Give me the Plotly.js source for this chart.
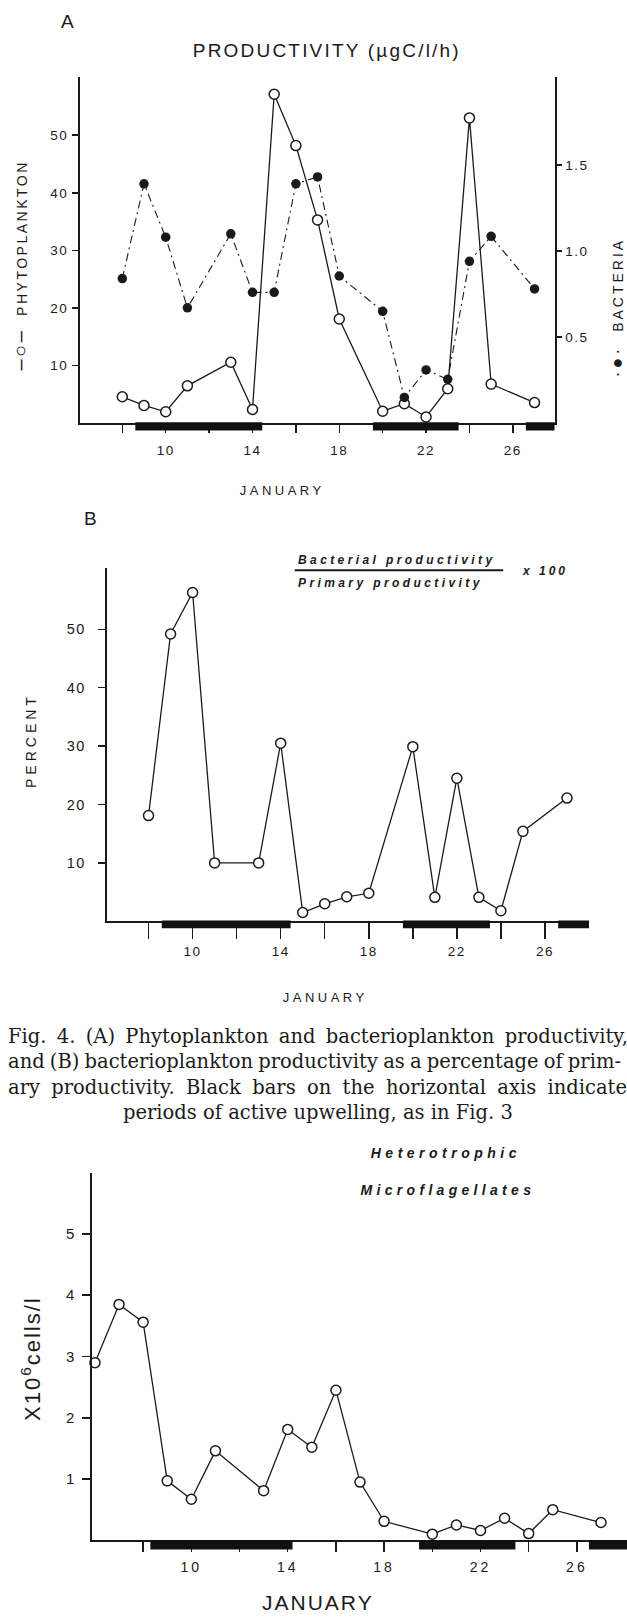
<!DOCTYPE html>
<html><head><meta charset="utf-8">
<script src="https://cdn.plot.ly/plotly-3.0.1.min.js"></script>
<style>
html,body{margin:0;padding:0;background:#fff;}
#chart{width:627px;height:1619px;}
g.xtick text, g.x2tick text, g.ytick text, g.y2tick text, g.y3tick text {letter-spacing:1.5px;}
g.x3tick text {letter-spacing:3px;}
</style></head>
<body><div id="chart"></div>
<script>
// ---------- data ----------
const phytoDays = [8,9,10,11,13,14,15,16,17,18,20,21,22,23,24,25,27];
const phytoValues = [4.6,3.1,2.0,6.5,10.6,2.4,57.1,48.2,35.3,18.1,2.1,3.4,1.1,6.0,53.0,6.8,3.6];
const bacteriaDays = [8,9,10,11,13,14,15,16,17,18,20,21,22,23,24,25,27];
const bacteriaValues = [0.84,1.39,1.08,0.67,1.10,0.76,0.76,1.39,1.43,0.855,0.65,0.15,0.31,0.255,0.94,1.085,0.78];
const percentDays = [8,9,10,11,13,14,15,16,17,18,20,21,22,23,24,25,27];
const percentValues = [18.1,49.2,56.3,10.0,10.0,30.5,1.5,3.0,4.2,4.8,29.9,4.1,24.5,4.1,1.8,15.4,21.1];
const flagDays = [6,7,8,9,10,11,13,14,15,16,17,18,20,21,22,23,24,25,27];
const flagValues = [2.90,3.85,3.56,0.97,0.67,1.46,0.81,1.81,1.52,2.45,0.95,0.31,0.10,0.25,0.16,0.36,0.11,0.50,0.29];
const upwellStartAB = [8.6,19.55,26.6];
const upwellEndAB = [14.45,23.5,28.5];
const upwellStartC = [8.3,19.45,26.5];
const upwellEndC = [14.2,23.45,28.5];
const dayLabelTicks = [10,14,18,22,26];
const dayMinorTicks = [8,12,16,20,24];
const phytoTicks = [10,20,30,40,50];
const bacteriaTicks = [0.5,1.0,1.5];
const bacteriaTickText = ['0.5','1.0','1.5'];
const percentTicks = [10,20,30,40,50];
const cellTicks = [1,2,3,4,5];
const captionLines = [
  'Fig. 4. (A) Phytoplankton and bacterioplankton productivity,',
  'and (B) bacterioplankton productivity as a percentage of prim-',
  'ary productivity. Black bars on the horizontal axis indicate',
  'periods of active upwelling, as in Fig. 3'
];

// ---------- layout helpers ----------
const W = 627, H = 1619;
const px = x => x / W;
const py = y => 1 - y / H;
const INK = '#1a1a1a';
const FONT = 'Liberation Sans, Arial, sans-serif';

const openMarker = {symbol:'circle', size:10, color:'#fff', line:{color:INK, width:1.5}};
const traces = [
  {x: phytoDays, y: phytoValues, xaxis:'x', yaxis:'y', mode:'lines+markers',
   line:{color:INK, width:1.3}, marker:openMarker, cliponaxis:false},
  {x: bacteriaDays, y: bacteriaValues, xaxis:'x', yaxis:'y2', mode:'lines+markers',
   line:{color:INK, width:1.1, dash:'8px,4px,2px,4px'},
   marker:{symbol:'circle', size:9.5, color:INK}, cliponaxis:false},
  {x: percentDays, y: percentValues, xaxis:'x2', yaxis:'y3', mode:'lines+markers',
   line:{color:INK, width:1.3}, marker:openMarker, cliponaxis:false},
  {x: flagDays, y: flagValues, xaxis:'x3', yaxis:'y4', mode:'lines+markers',
   line:{color:INK, width:1.3}, marker:openMarker, cliponaxis:false}
];

const axBase = {showline:true, linecolor:INK, linewidth:2, ticks:'outside', tickcolor:INK,
  tickwidth:1.5, showgrid:false, zeroline:false, fixedrange:true, automargin:false};
const xMinor = len => ({tickvals:dayMinorTicks, ticks:'outside', ticklen:len, tickwidth:1.5, tickcolor:INK, showgrid:false});

const layout = {
  width:W, height:H, margin:{l:0,r:0,t:0,b:0}, showlegend:false,
  paper_bgcolor:'#fff', plot_bgcolor:'rgba(0,0,0,0)',
  font:{family:FONT, color:INK, size:13},
  xaxis: Object.assign({}, axBase, {domain:[px(80),px(554.5)], range:[6.05,27.92], anchor:'y',
    tickvals:dayLabelTicks, ticklen:8, minor:xMinor(8), ticklabelstandoff:5, tickfont:{size:13.5}}),
  yaxis: Object.assign({}, axBase, {domain:[py(423.3),py(77)], range:[0,60.1], anchor:'x',
    tickvals:phytoTicks, ticklen:6, ticklabelstandoff:1, tickfont:{size:13.5}}),
  yaxis2: Object.assign({}, axBase, {overlaying:'y', side:'right', anchor:'x', range:[0,2.01],
    tickvals:bacteriaTicks, ticktext:bacteriaTickText, ticklen:5, ticklabelstandoff:1, tickfont:{size:13.5}}),
  xaxis2: Object.assign({}, axBase, {domain:[px(106.7),px(589)], range:[6.1,28], anchor:'y3',
    tickvals:dayLabelTicks, ticklen:16, minor:xMinor(16), ticklabelstandoff:0, tickfont:{size:13.5}}),
  yaxis3: Object.assign({}, axBase, {domain:[py(921.3),py(568)], range:[0,60.5], anchor:'x2',
    tickvals:percentTicks, ticklen:7, ticklabelstandoff:9, tickfont:{size:14.5}}),
  xaxis3: Object.assign({}, axBase, {domain:[px(92.3),1], range:[5.89,28.08], anchor:'y4',
    tickvals:dayLabelTicks, ticklen:10, minor:xMinor(10), ticklabelstandoff:3, tickfont:{size:14}}),
  yaxis4: Object.assign({}, axBase, {domain:[py(1540.3),py(1172.7)], range:[0,6], anchor:'x3',
    tickvals:cellTicks, ticklen:8, ticklabelstandoff:5, tickfont:{size:15}}),
  shapes: [],
  annotations: []
};

// upwelling bars under the horizontal axes
upwellStartAB.forEach((s,i) => {
  layout.shapes.push({type:'rect', xref:'x', yref:'paper', x0:s, x1:upwellEndAB[i],
    y0:py(422.3), y1:py(430.5), fillcolor:'#111', line:{width:0}, layer:'above'});
  layout.shapes.push({type:'rect', xref:'x2', yref:'paper', x0:s, x1:upwellEndAB[i],
    y0:py(920.5), y1:py(928.3), fillcolor:'#111', line:{width:0}, layer:'above'});
});
upwellStartC.forEach((s,i) => {
  layout.shapes.push({type:'rect', xref:'x3', yref:'paper', x0:s, x1:upwellEndC[i],
    y0:py(1540), y1:py(1549.5), fillcolor:'#111', line:{width:0}, layer:'above'});
});
// fraction bar in panel B
layout.shapes.push({type:'line', xref:'paper', yref:'paper', x0:px(294.7), x1:px(503.2),
  y0:py(570.3), y1:py(570.3), line:{color:INK, width:2}});

// annotations; extra per-annotation letter spacing / justification kept separately
const annExtra = [];
function ann(text, x, y, opts, extra) {
  layout.annotations.push(Object.assign({text, x:px(x), y:py(y), xref:'paper', yref:'paper',
    showarrow:false, xanchor:'center', yanchor:'middle', borderpad:0,
    font:{family:FONT, size:13, color:INK}}, opts || {}));
  annExtra.push(extra || {});
}
ann('A', 67, 22, {font:{family:FONT, size:19, color:INK}});
ann('PRODUCTIVITY (µgC/l/h)', 327, 50, {font:{family:FONT, size:19, color:INK}}, {ls:2.2});
ann('<span style="font-size:20px">–○–</span>  PHYTOPLANKTON', 20, 266, {textangle:-90, font:{family:FONT, size:14, color:INK}}, {ls:2.5});
ann('<span style="font-size:18px">·●·</span>  BACTERIA', 617, 308, {textangle:-90, font:{family:FONT, size:14, color:INK}}, {ls:3});
ann('JANUARY', 282, 490, {font:{family:FONT, size:13, color:INK}}, {ls:3.5});
ann('B', 90, 518, {font:{family:FONT, size:19, color:INK}});
const boldIt = {family:FONT, size:12, color:INK, style:'italic', weight:'bold'};
ann('Bacterial productivity', 296.7, 560, {xanchor:'left', align:'left', font:boldIt}, {ls:3.4});
ann('Primary productivity', 296.7, 583, {xanchor:'left', align:'left', font:boldIt}, {ls:3.4});
ann('x 100', 521, 571, {xanchor:'left', align:'left', font:boldIt}, {ls:3});
ann('PERCENT', 31, 740, {textangle:-90, font:{family:FONT, size:14, color:INK}}, {ls:4});
ann('JANUARY', 325, 997, {font:{family:FONT, size:13, color:INK}}, {ls:3.5});
const capFont = {family:'DejaVu Serif, serif', size:19.5, color:INK};
const capY = [1036, 1061.7, 1087, 1112];
const capW = [620, 613, 619, 0];
captionLines.forEach((t,i) => {
  if (i < 3) ann(t, 6.5, capY[i], {xanchor:'left', align:'left', font:capFont}, {justify:capW[i]});
  else ann(t, 318, capY[i], {font:capFont}, {});
});
const boldIt2 = {family:FONT, size:14, color:INK, style:'italic', weight:'bold'};
ann('Heterotrophic', 446, 1153, {font:boldIt2}, {ls:4.5});
ann('Microflagellates', 448, 1190, {font:boldIt2}, {ls:4.3});
ann('X10<sup>6</sup>cells/l', 31, 1358, {textangle:-90, font:{family:FONT, size:22, color:INK}}, {ls:2});
ann('JANUARY', 318, 1602, {font:{family:FONT, size:21, color:INK}}, {ls:2});

const gd = document.getElementById('chart');
Plotly.newPlot(gd, traces, layout, {staticPlot:true, displayModeBar:false}).then(() => {
  gd.querySelectorAll('g.annotation').forEach(g => {
    const i = +g.getAttribute('data-index');
    const ex = annExtra[i] || {};
    const t = g.querySelector('text.annotation-text');
    if (!t) return;
    if (ex.ls) t.style.letterSpacing = ex.ls + 'px';
    if (ex.justify) {
      const len = t.getComputedTextLength();
      const spaces = (t.textContent.match(/ /g) || []).length;
      if (spaces > 0) t.style.wordSpacing = ((ex.justify - len) / spaces) + 'px';
    }
  });
});
</script>
</body></html>
